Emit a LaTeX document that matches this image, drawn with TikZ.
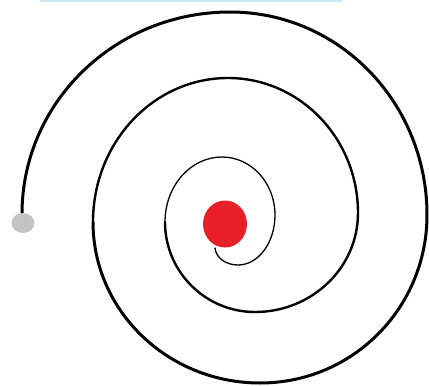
\documentclass[tikz,border=0pt]{standalone}
\begin{document}
\begin{tikzpicture}[x=1pt,y=-1pt,
  spir/.style={black,line cap=round,line join=round},
  reddot/.style={fill={rgb,255:red,232;green,30;blue,40}},
  graydot/.style={fill={rgb,255:red,196;green,196;blue,196}},
  topbar/.style={draw={rgb,255:red,205;green,230;blue,243},line width=2.5pt}]
\useasboundingbox (0,0) rectangle (429,386);
\draw[topbar] (40,1) -- (342,1);
% named key points of the spiral
\coordinate (s0) at (22,214);
\coordinate (t1) at (230,12);
\coordinate (r1) at (427,215);
\coordinate (b1) at (260,383);
\coordinate (l2) at (93,222);
\coordinate (t2) at (228,78);
\coordinate (r2) at (358,213);
\coordinate (b2) at (255,312);
\coordinate (l3) at (165,222);
\coordinate (t3) at (222,157);
\coordinate (r3) at (275,215);
\coordinate (b3) at (238,265);
\coordinate (e3) at (215,248);
% outer turn
\draw[spir,line width=3pt] (s0) .. controls (22,102.4) and (115.1,12) .. (t1)
  .. controls (339.4,12) and (427,102.9) .. (r1)
  .. controls (427,307.8) and (352.8,383) .. (b1)
  .. controls (167.8,383) and (93,310.9) .. (l2);
% second turn
\draw[spir,line width=2.4pt] (l2) .. controls (93,142.5) and (153.4,78) .. (t2)
  .. controls (299.8,78) and (358,138.4) .. (r2)
  .. controls (358,267.7) and (311.9,312) .. (b2)
  .. controls (205.3,312) and (165,271.7) .. (l3);
% inner turn
\draw[spir,line width=1.3pt] (l3) .. controls (165,186.1) and (190.5,157) .. (t3)
  .. controls (251.3,157) and (275,183) .. (r3)
  .. controls (275,242.6) and (258.4,265) .. (b3)
  .. controls (226,265) and (216,258) .. (e3);
\fill[graydot] (23,223) ellipse [x radius=11.5, y radius=10];
\fill[reddot] (225,224) ellipse [x radius=22, y radius=23.5];
\end{tikzpicture}
\end{document}
